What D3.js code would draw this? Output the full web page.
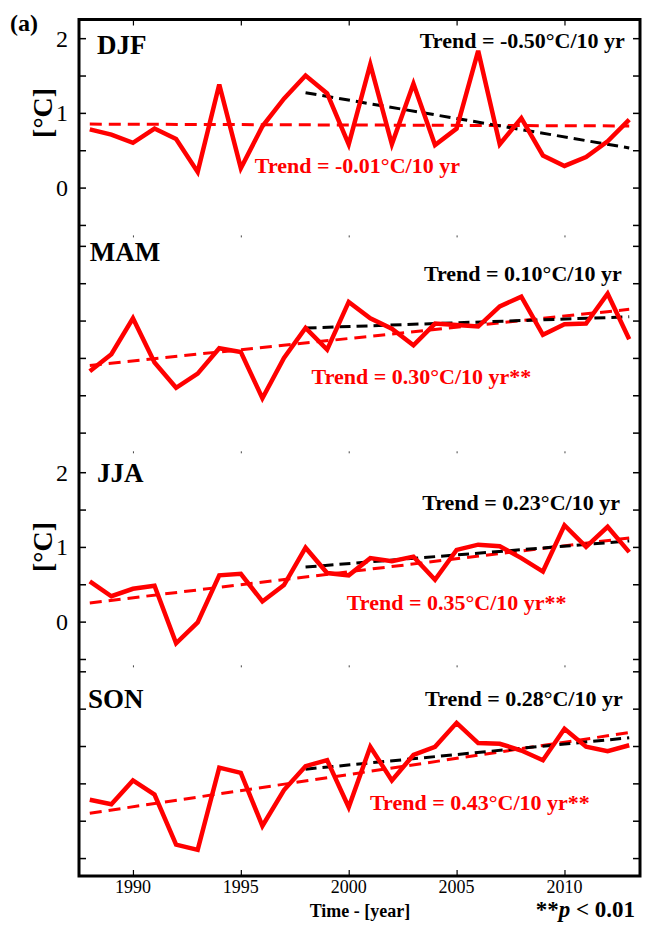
<!DOCTYPE html>
<html>
<head>
<meta charset="utf-8">
<script src="https://cdn.jsdelivr.net/npm/d3@7/dist/d3.min.js"></script>
<style>
  html, body { margin: 0; padding: 0; background: #fff; }
  svg text { font-family: "Liberation Serif", "Times New Roman", serif; }
</style>
</head>
<body>
<div id="chart"></div>
<script>
// Seasonal temperature anomalies, 1988-2013
const years = [1988, 1989, 1990, 1991, 1992, 1993, 1994, 1995, 1996, 1997, 1998, 1999, 2000,
  2001, 2002, 2003, 2004, 2005, 2006, 2007, 2008, 2009, 2010, 2011, 2012, 2013];

const seasons = ['DJF', 'MAM', 'JJA', 'SON'];

const djf = [0.78, 0.71, 0.60, 0.79, 0.65, 0.21, 1.38, 0.26, 0.82, 1.19, 1.50, 1.26, 0.58,
  1.65, 0.58, 1.39, 0.57, 0.79, 1.83, 0.58, 0.93, 0.43, 0.29, 0.41, 0.62, 0.91];
const mam = [0.32, 0.55, 1.03, 0.44, 0.10, 0.29, 0.63, 0.58, -0.04, 0.50, 0.90, 0.61, 1.25,
  1.03, 0.89, 0.67, 0.96, 0.94, 0.92, 1.19, 1.32, 0.81, 0.95, 0.96, 1.36, 0.75];
const jja = [0.54, 0.34, 0.44, 0.48, -0.29, -0.01, 0.62, 0.64, 0.27, 0.49, 0.99, 0.65, 0.62,
  0.85, 0.81, 0.87, 0.56, 0.96, 1.03, 1.01, 0.85, 0.67, 1.29, 1.00, 1.27, 0.93];
const son = [0.28, 0.22, 0.54, 0.35, -0.32, -0.39, 0.71, 0.64, -0.07, 0.41, 0.73, 0.81, 0.18,
  0.99, 0.54, 0.88, 0.99, 1.31, 1.04, 1.03, 0.94, 0.81, 1.23, 0.99, 0.93, 1.01];
const series = [djf, mam, jja, son];

// full-period trend (red) and 1998-2013 trend (black), end values
const fullTrendYears = [1988, 2013];
const fullTrendStart = [0.85, 0.40, 0.25, 0.10];
const fullTrendEnd = [0.825, 1.15, 1.12, 1.18];
const recentTrendYears = [1998, 2013];
const recentTrendStart = [1.27, 0.90, 0.73, 0.69];
const recentTrendEnd = [0.53, 1.05, 1.08, 1.11];

const fullTrendText = ['Trend = -0.01°C/10 yr', 'Trend = 0.30°C/10 yr**',
  'Trend = 0.35°C/10 yr**', 'Trend = 0.43°C/10 yr**'];
const recentTrendText = ['Trend = -0.50°C/10 yr', 'Trend = 0.10°C/10 yr',
  'Trend = 0.23°C/10 yr', 'Trend = 0.28°C/10 yr'];

const xTicks = [1990, 1995, 2000, 2005, 2010];
const yTicks = [-0.5, 0, 0.5, 1, 1.5, 2];
const yTickLabels = [[2, 1, 0], [], [2, 1, 0], []];
const unitLabelPanels = [0, 2];

// Panel y extents (axis domains, top panel first)
const panelDomains = [[-0.64, 2.25], [-0.75, 2.14], [-0.585, 2.28], [-0.74, 2.08]];

// Annotation anchors, in data coordinates of each panel
const seasonLabelAt = [[1988.33, 1.79], [1988.0, 1.80], [1988.33, 1.87], [1987.92, 1.51]];
const recentLabelAt = [[2012.8, 1.87], [2012.65, 1.53], [2012.57, 1.49], [2012.7, 1.53]];
const fullLabelAt = [[1995.65, 0.20], [1998.28, 0.156], [1999.91, 0.149], [2000.99, 0.143]];

const W = 648, H = 937;
const frame = { left: 79, right: 640, top: 19.5, bottom: 876 };

const svg = d3.select('#chart').append('svg')
  .attr('width', W).attr('height', H)
  .attr('viewBox', `0 0 ${W} ${H}`);

const x = d3.scaleLinear().domain([1987.5, 2013.5]).range([frame.left, frame.right]);

// Stack the panels with a common px-per-degree
const totalSpan = d3.sum(panelDomains, d => d[1] - d[0]);
const pxPerUnit = (frame.bottom - frame.top) / totalSpan;
let cursor = frame.top;
const panels = panelDomains.map((dom, i) => {
  const top = cursor;
  const bottom = top + (dom[1] - dom[0]) * pxPerUnit;
  cursor = bottom;
  return { i, top, bottom, y: d3.scaleLinear().domain(dom).range([bottom, top]) };
});

const gAxes = svg.append('g');

// y ticks on both sides, pointing inward
panels.forEach(p => {
  gAxes.append('g')
    .attr('transform', `translate(${frame.left},0)`)
    .call(d3.axisRight(p.y).tickValues(yTicks).tickSize(7).tickFormat(''))
    .call(g => g.select('.domain').remove())
    .call(g => g.selectAll('line').attr('stroke', '#000').attr('stroke-width', 1.5));

  gAxes.append('g')
    .attr('transform', `translate(${frame.right},0)`)
    .call(d3.axisLeft(p.y).tickValues(yTicks).tickSize(7).tickFormat(''))
    .call(g => g.select('.domain').remove())
    .call(g => g.selectAll('line').attr('stroke', '#000').attr('stroke-width', 1.5));

  // tick labels
  gAxes.append('g').selectAll('text')
    .data(yTickLabels[p.i])
    .join('text')
    .attr('x', frame.left - 11)
    .attr('y', d => p.y(d))
    .attr('dy', '0.35em')
    .attr('text-anchor', 'end')
    .attr('font-size', 24)
    .text(d => d);

  // tiny year marks at panel boundaries
  if (p.i > 0) {
    gAxes.append('g')
      .attr('transform', `translate(0,${p.top})`)
      .call(d3.axisBottom(x).tickValues(xTicks).tickSize(2).tickFormat(''))
      .call(g => g.select('.domain').remove())
      .call(g => g.selectAll('line').attr('stroke', '#444').attr('stroke-width', 1));
  }
});

// top and bottom year ticks
gAxes.append('g')
  .attr('transform', `translate(0,${frame.top})`)
  .call(d3.axisBottom(x).tickValues(xTicks).tickSize(6).tickFormat(''))
  .call(g => g.select('.domain').remove())
  .call(g => g.selectAll('line').attr('stroke', '#000').attr('stroke-width', 1.2));

gAxes.append('g')
  .attr('transform', `translate(0,${frame.bottom})`)
  .call(d3.axisTop(x).tickValues(xTicks).tickSize(6).tickFormat(''))
  .call(g => g.select('.domain').remove())
  .call(g => g.selectAll('line').attr('stroke', '#000').attr('stroke-width', 1.2));

// x tick labels
gAxes.append('g').selectAll('text')
  .data(xTicks)
  .join('text')
  .attr('x', d => x(d))
  .attr('y', frame.bottom + 17)
  .attr('text-anchor', 'middle')
  .attr('font-size', 18)
  .text(d => d);

// unit labels
unitLabelPanels.forEach(i => {
  const p = panels[i];
  svg.append('text')
    .attr('transform', `translate(42,${p.y(1)}) rotate(-90)`)
    .attr('text-anchor', 'middle')
    .attr('dy', '0.35em')
    .attr('font-size', 28)
    .attr('font-weight', 'bold')
    .text('[°C]');
});

// series and trends
const gData = svg.append('g');
panels.forEach(p => {
  const line = d3.line().x(d => x(d[0])).y(d => p.y(d[1]));
  const vals = series[p.i];

  gData.append('path')
    .attr('d', line([[fullTrendYears[0], fullTrendStart[p.i]], [fullTrendYears[1], fullTrendEnd[p.i]]]))
    .attr('fill', 'none')
    .attr('stroke', '#ff0000')
    .attr('stroke-width', 3)
    .attr('stroke-dasharray', '12,7');

  gData.append('path')
    .attr('d', line([[recentTrendYears[0], recentTrendStart[p.i]], [recentTrendYears[1], recentTrendEnd[p.i]]]))
    .attr('fill', 'none')
    .attr('stroke', '#000')
    .attr('stroke-width', 3)
    .attr('stroke-dasharray', '11,6');

  gData.append('path')
    .attr('d', line(years.map((yr, k) => [yr, vals[k]])))
    .attr('fill', 'none')
    .attr('stroke', '#ff0000')
    .attr('stroke-width', 4.5)
    .attr('stroke-linejoin', 'miter');

  // season name
  svg.append('text')
    .attr('x', x(seasonLabelAt[p.i][0]))
    .attr('y', p.y(seasonLabelAt[p.i][1]))
    .attr('font-size', 27)
    .attr('font-weight', 'bold')
    .text(seasons[p.i]);

  svg.append('text')
    .attr('x', x(recentLabelAt[p.i][0]))
    .attr('y', p.y(recentLabelAt[p.i][1]))
    .attr('text-anchor', 'end')
    .attr('font-size', 22)
    .attr('font-weight', 'bold')
    .attr('fill', '#000')
    .text(recentTrendText[p.i]);

  svg.append('text')
    .attr('x', x(fullLabelAt[p.i][0]))
    .attr('y', p.y(fullLabelAt[p.i][1]))
    .attr('font-size', 22)
    .attr('font-weight', 'bold')
    .attr('fill', '#ff0000')
    .text(fullTrendText[p.i]);
});

// frame
svg.append('rect')
  .attr('x', frame.left).attr('y', frame.top)
  .attr('width', frame.right - frame.left)
  .attr('height', frame.bottom - frame.top)
  .attr('fill', 'none')
  .attr('stroke', '#000')
  .attr('stroke-width', 3);

// panel tag, axis title, significance note
svg.append('text')
  .attr('x', 10).attr('y', 31)
  .attr('font-size', 24)
  .attr('font-weight', 'bold')
  .text('(a)');

svg.append('text')
  .attr('x', 360).attr('y', 917)
  .attr('text-anchor', 'middle')
  .attr('font-size', 18)
  .attr('font-weight', 'bold')
  .text('Time - [year]');

const note = svg.append('text')
  .attr('x', 635).attr('y', 917)
  .attr('text-anchor', 'end')
  .attr('font-size', 23)
  .attr('font-weight', 'bold');
note.append('tspan').text('**');
note.append('tspan').attr('font-style', 'italic').text('p');
note.append('tspan').text(' < 0.01');
</script>
</body>
</html>
